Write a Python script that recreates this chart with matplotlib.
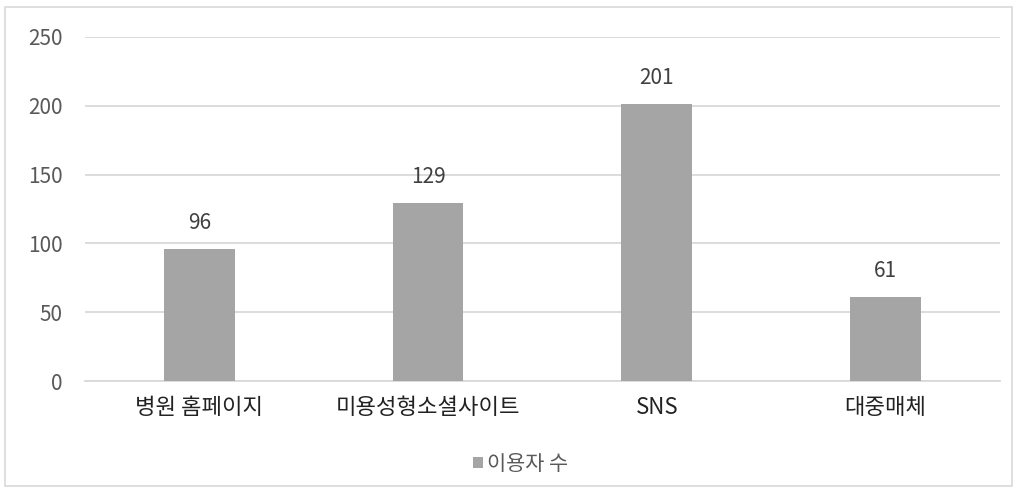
import matplotlib
matplotlib.use("Agg")
import matplotlib.pyplot as plt
from matplotlib.patches import Rectangle

plt.rcParams['font.family'] = ['Noto Sans CJK KR', 'DejaVu Sans']

categories = ['병원 홈페이지', '미용성형소셜사이트', 'SNS', '대중매체']
values = [96, 129, 201, 61]
series_name = '이용자 수'
yticks = [0, 50, 100, 150, 200, 250]

fig = plt.figure(figsize=(10.17, 4.92), dpi=100)
fig.patches.append(Rectangle((0.005, 0.012), 0.99, 0.973, transform=fig.transFigure,
                             fill=False, edgecolor='#d9d9d9', linewidth=1.2))
ax = fig.add_axes([0.0836, 0.2256, 0.8994, 0.6992])

x = range(len(categories))
bars = ax.bar(x, values, width=0.31, color='#a5a5a5', label=series_name, zorder=3)
for xi, v in zip(x, values):
    ax.annotate(str(v), (xi, v), xytext=(0, 11), textcoords='offset points',
                ha='center', va='bottom', fontsize=15, color='#404040')

ax.set_ylim(0, 250)
ax.set_xlim(-0.5, len(categories) - 0.5)
ax.set_yticks(yticks)
ax.set_yticklabels([str(t) for t in yticks], fontsize=15, color='#595959')
ax.set_xticks(list(x))
ax.set_xticklabels(categories, fontsize=16, color='#222222')
ax.tick_params(axis='both', length=0)
ax.tick_params(axis='y', pad=16)
ax.tick_params(axis='x', pad=11)
ax.grid(axis='y', color='#d9d9d9', linewidth=1.3, zorder=0)
for s in ['top', 'right', 'left']:
    ax.spines[s].set_visible(False)
ax.spines['bottom'].set_color('#d9d9d9')
ax.spines['bottom'].set_linewidth(1.3)

fig.legend(handles=[bars], labels=[series_name], loc='center', bbox_to_anchor=(0.512, 0.057),
           frameon=False, fontsize=15, labelcolor='#595959', handlelength=0.5, handleheight=0.5,
           handletextpad=0.2)

fig.savefig('out.png', dpi=100)
